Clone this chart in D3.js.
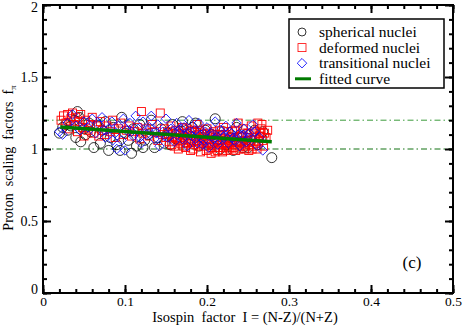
<!DOCTYPE html>
<html>
<head>
<meta charset="utf-8">
<script src="https://cdn.jsdelivr.net/npm/d3@7"></script>
<style>
  body { margin: 0; background: #fff; }
  svg text { font-family: "Liberation Serif", "Times New Roman", serif; }
</style>
</head>
<body>
<div id="chart"></div>
<script>
// values, [isospin I, f_pi]
var spherical = [
  [0.020,1.11],[0.024,1.15],[0.028,1.17],[0.030,1.13],[0.034,1.16],[0.038,1.20],[0.042,1.26],[0.044,1.22],
  [0.046,1.05],[0.040,1.08],[0.050,1.14],[0.052,1.10],[0.056,1.18],[0.058,1.12],[0.062,1.01],[0.066,1.16],
  [0.070,1.04],[0.072,1.13],[0.076,1.19],[0.080,0.99],[0.082,1.08],[0.086,1.15],[0.090,1.03],[0.094,0.99],
  [0.096,1.22],[0.100,1.11],[0.104,1.06],[0.108,0.97],[0.110,1.14],[0.114,1.02],[0.118,1.17],[0.122,1.01],
  [0.124,1.06],[0.128,1.10],[0.132,1.20],[0.136,1.01],[0.140,1.08],[0.144,1.14],[0.148,1.04],[0.152,1.11],
  [0.155,1.03],[0.158,1.17],[0.162,1.07],[0.166,1.12],[0.170,1.19],[0.174,1.05],[0.178,1.10],[0.182,1.15],
  [0.186,1.18],[0.190,1.02],[0.194,1.08],[0.198,1.13],[0.202,1.04],[0.206,1.10],[0.210,1.21],[0.212,1.06],
  [0.216,1.00],[0.220,1.12],[0.224,1.03],[0.228,1.08],[0.232,0.99],[0.236,1.15],[0.240,1.05],[0.244,1.01],
  [0.248,1.10],[0.250,1.01],[0.254,1.06],[0.258,1.13],[0.262,1.03],[0.266,1.08],[0.268,1.12],[0.279,0.94]
];
var deformed = [
  [0.022,1.20],[0.025,1.23],[0.028,1.18],[0.030,1.24],[0.032,1.14],[0.034,1.21],[0.036,1.25],[0.038,1.17],
  [0.040,1.22],[0.042,1.12],[0.044,1.19],[0.046,1.24],[0.048,1.15],[0.050,1.09],[0.052,1.20],[0.055,1.13],
  [0.058,1.17],[0.060,1.22],[0.062,1.11],[0.065,1.16],[0.068,1.09],[0.070,1.19],[0.072,1.13],
  [0.075,1.10],[0.078,1.16],[0.082,1.12],[0.085,1.20],[0.088,1.08],[0.092,1.14],[0.095,1.18],[0.098,1.10],
  [0.102,1.13],[0.105,1.16],[0.108,1.09],[0.112,1.12],[0.115,1.15],[0.118,1.07],[0.120,1.26],[0.122,1.11],
  [0.126,1.14],[0.130,1.09],[0.133,1.17],[0.136,1.12],[0.140,1.06],[0.143,1.25],[0.146,1.10],[0.148,1.14],
  [0.150,1.08],[0.152,1.12],[0.154,1.05],[0.156,1.16],[0.158,1.09],[0.160,1.02],[0.162,1.13],[0.164,1.07],
  [0.166,1.10],[0.168,1.04],[0.170,1.15],[0.172,1.08],[0.174,1.01],[0.176,1.11],[0.178,1.06],[0.180,0.99],
  [0.182,1.13],[0.184,1.03],[0.186,1.09],[0.188,1.17],[0.190,1.05],[0.192,0.98],[0.194,1.11],[0.196,1.02],
  [0.198,1.07],[0.200,1.14],[0.202,1.00],[0.204,1.09],[0.206,1.04],[0.208,1.12],[0.210,0.98],[0.212,1.06],
  [0.214,1.01],[0.216,1.10],[0.218,1.03],[0.220,1.15],[0.222,1.07],[0.224,0.99],[0.226,1.12],[0.228,1.04],
  [0.230,1.08],[0.232,1.01],[0.234,1.13],[0.236,1.05],[0.238,1.18],[0.240,1.02],[0.242,1.09],[0.244,1.14],
  [0.246,1.00],[0.248,1.06],[0.250,1.11],[0.252,1.03],[0.254,1.16],[0.256,1.08],[0.258,1.12],[0.260,1.04],
  [0.262,1.18],[0.264,1.09],[0.266,1.14],[0.268,1.06],[0.270,1.11],
  [0.165,1.00],[0.175,1.14],[0.185,1.12],[0.195,1.06],[0.205,0.97],[0.215,1.13],[0.225,1.02],[0.235,0.99],
  [0.245,1.04],[0.255,1.00],[0.190,1.10],[0.200,1.04],[0.210,1.08],[0.220,1.01],[0.180,1.07],[0.170,1.11],
  [0.153,1.10],[0.157,1.03],[0.161,1.08],[0.163,1.11],[0.167,1.06],[0.171,1.02],[0.173,1.09],[0.177,1.04],
  [0.179,1.12],[0.181,1.05],[0.183,1.00],[0.187,1.06],[0.189,1.02],[0.191,1.13],[0.193,1.04],[0.197,1.10],
  [0.199,0.99],[0.201,1.07],[0.203,1.11],[0.207,1.01],[0.209,1.05],[0.211,1.10],[0.213,0.99],[0.217,1.06],
  [0.219,0.98],[0.221,1.04],[0.223,1.10],[0.227,1.00],[0.229,1.06],[0.231,1.12],[0.233,1.03],[0.237,1.08],
  [0.239,1.00],[0.241,1.05],[0.243,1.11],[0.247,1.02],[0.249,1.08],[0.251,0.99],[0.253,1.06],[0.257,1.02],
  [0.259,1.09],[0.261,1.00],[0.263,1.05],[0.265,1.11],[0.269,1.02],[0.272,1.08],[0.274,1.13],[0.267,1.17]
];
var transitional = [
  [0.020,1.12],[0.024,1.10],[0.030,1.18],[0.036,1.24],[0.040,1.16],[0.045,1.13],[0.050,1.19],[0.055,1.15],
  [0.060,1.21],[0.064,1.11],[0.068,1.17],[0.072,1.22],[0.076,1.08],[0.080,1.14],[0.084,1.19],[0.088,1.11],
  [0.090,1.00],[0.092,1.16],[0.096,1.06],[0.098,1.21],[0.100,0.99],[0.102,1.13],[0.106,1.18],[0.110,1.09],
  [0.113,1.23],[0.116,1.14],[0.120,1.04],[0.122,1.19],[0.126,1.10],[0.130,1.15],[0.132,1.23],[0.136,1.07],
  [0.140,1.17],[0.142,1.02],[0.146,1.12],[0.150,1.21],[0.152,1.08],[0.156,1.14],[0.160,1.05],[0.163,1.18],
  [0.166,1.11],[0.170,1.07],[0.172,1.15],[0.176,1.02],[0.178,1.20],[0.182,1.09],[0.185,1.13],[0.188,1.04],
  [0.190,1.18],[0.193,1.10],[0.196,1.06],[0.200,1.15],[0.202,1.01],[0.205,1.11],[0.208,1.07],[0.210,1.19],
  [0.213,1.03],[0.216,1.13],[0.220,1.08],[0.223,1.16],[0.226,1.04],[0.230,1.11],[0.233,1.06],[0.236,1.18],
  [0.240,1.02],[0.242,1.09],[0.245,1.14],[0.248,1.05],[0.252,1.11],[0.256,1.17],[0.260,1.03],[0.264,1.08],
  [0.268,0.99],[0.108,1.12],[0.118,1.08],[0.128,1.13],[0.138,1.11],[0.148,1.09],[0.158,1.12],[0.168,1.14],
  [0.180,1.12],[0.198,1.12],[0.218,1.10],[0.228,1.12],[0.238,1.10],[0.250,1.08],[0.075,1.13],[0.085,1.06],
  [0.174,1.09],[0.186,1.07],[0.206,1.09],[0.214,1.06],[0.232,1.08],[0.244,1.10],[0.258,1.12],[0.195,1.03]
];
var fitX = [0.021, 0.279];
var fitY = [1.152, 1.051];
var refLines = [1.2, 1.0];
var xTicks = [0, 0.1, 0.2, 0.3, 0.4, 0.5];
var yTicks = [0, 0.5, 1, 1.5, 2];
var legendLabels = ["spherical nuclei", "deformed nuclei", "transitional nuclei", "fitted curve"];

var width = 463, height = 326;
var plotL = 43, plotR = 453, plotT = 5, plotB = 293;

var svg = d3.select("#chart").append("svg")
  .attr("width", width)
  .attr("height", height);

var x = d3.scaleLinear().domain([0, 0.5]).range([plotL, plotR]);
var y = d3.scaleLinear().domain([0, 2]).range([plotB, plotT]);

// reference lines
svg.selectAll(".ref")
  .data(refLines)
  .enter()
  .append("line")
  .attr("x1", x(0)).attr("x2", x(0.5))
  .attr("y1", d => y(d)).attr("y2", d => y(d))
  .attr("stroke", (d, i) => i === 0 ? "#3c9c3c" : "#137313")
  .attr("stroke-width", 1)
  .attr("stroke-dasharray", "6,3,1.5,3");

// points
svg.append("g").selectAll("circle")
  .data(spherical)
  .enter()
  .append("circle")
  .attr("cx", d => x(d[0]))
  .attr("cy", d => y(d[1]))
  .attr("r", 5)
  .attr("fill", "none")
  .attr("stroke", "#000")
  .attr("stroke-width", 0.8);

var sq = 8;
svg.append("g").selectAll("rect")
  .data(deformed)
  .enter()
  .append("rect")
  .attr("x", d => x(d[0]) - sq / 2)
  .attr("y", d => y(d[1]) - sq / 2)
  .attr("width", sq)
  .attr("height", sq)
  .attr("fill", "none")
  .attr("stroke", "#ff0000")
  .attr("stroke-width", 0.9);

var diamond = d3.symbol().type(d3.symbolSquare).size(45);
svg.append("g").selectAll("path")
  .data(transitional)
  .enter()
  .append("path")
  .attr("d", diamond)
  .attr("transform", d => "translate(" + x(d[0]) + "," + y(d[1]) + ") rotate(45)")
  .attr("fill", "none")
  .attr("stroke", "#0000ff")
  .attr("stroke-width", 0.8);

// fitted curve
var fitLine = d3.line().x((d, i) => x(fitX[i])).y(d => y(d));
svg.append("path")
  .datum(fitY)
  .attr("d", fitLine)
  .attr("fill", "none")
  .attr("stroke", "#007a00")
  .attr("stroke-width", 3.5);

// axes, ticks pointing inward on all four sides
function addAxis(axis, tx, ty, labels) {
  var g = svg.append("g")
    .attr("transform", "translate(" + tx + "," + ty + ")")
    .call(axis);
  g.select(".domain").remove();
  g.selectAll("line").attr("stroke", "#000").attr("stroke-width", 2);
  if (!labels) g.selectAll("text").remove();
  return g;
}
var xMinor = d3.range(0, 0.5001, 0.02);
var yMinor = d3.range(0, 2.0001, 0.1);

var xb = addAxis(d3.axisBottom(x).tickValues(xTicks).tickSize(-8).tickPadding(3)
  .tickFormat(d => d === 0 ? "0" : d3.format(".1f")(d)), 0, plotB, true);
addAxis(d3.axisBottom(x).tickValues(xMinor).tickSize(-4).tickFormat(""), 0, plotB, false);
addAxis(d3.axisTop(x).tickValues(xTicks).tickSize(-8), 0, plotT, false);
addAxis(d3.axisTop(x).tickValues(xMinor).tickSize(-4), 0, plotT, false);

var yl = addAxis(d3.axisLeft(y).tickValues(yTicks).tickSize(-8).tickPadding(5)
  .tickFormat(d => d3.format("")(d)), plotL, 0, true);
addAxis(d3.axisLeft(y).tickValues(yMinor).tickSize(-4).tickFormat(""), plotL, 0, false);
addAxis(d3.axisRight(y).tickValues(yTicks).tickSize(-8), plotR, 0, false);
addAxis(d3.axisRight(y).tickValues(yMinor).tickSize(-4), plotR, 0, false);

xb.selectAll("text").attr("font-size", 13.5).attr("fill", "#000")
  .attr("font-family", "Liberation Serif, serif");
yl.selectAll("text").attr("font-size", 14).attr("fill", "#000")
  .attr("font-family", "Liberation Serif, serif")
  .attr("dy", d => d === 0 ? "0.05em" : d === 2 ? "0.45em" : "0.32em");

svg.append("rect")
  .attr("x", plotL).attr("y", plotT)
  .attr("width", plotR - plotL).attr("height", plotB - plotT)
  .attr("fill", "none")
  .attr("stroke", "#000")
  .attr("stroke-width", 2);

// axis titles
svg.append("text")
  .attr("x", 245)
  .attr("y", 322)
  .attr("text-anchor", "middle")
  .attr("font-size", 14.5)
  .attr("xml:space", "preserve")
  .text("Isospin  factor  I = (N-Z)/(N+Z)");

var yt = svg.append("text")
  .attr("transform", "translate(13,158) rotate(-90)")
  .attr("text-anchor", "middle")
  .attr("font-size", 14)
  .attr("xml:space", "preserve");
yt.append("tspan").text("Proton  scaling  factors  f");
yt.append("tspan").attr("dy", 3).attr("font-size", 9).text("π");

svg.append("text")
  .attr("x", 412).attr("y", 268)
  .attr("text-anchor", "middle")
  .attr("font-size", 17)
  .text("(c)");

// legend
var lx = 289, ly = 19;
svg.append("rect")
  .attr("x", lx).attr("y", ly)
  .attr("width", 155).attr("height", 69)
  .attr("fill", "#fff")
  .attr("stroke", "#000")
  .attr("stroke-width", 1.5);

var rows = legendLabels.map((t, i) => ({ t: t, i: i, cy: ly + 13 + i * 15.6 }));
var lg = svg.append("g");
rows.forEach(function (r) {
  var mx = 302;
  if (r.i === 0) {
    lg.append("circle").attr("cx", mx).attr("cy", r.cy).attr("r", 4)
      .attr("fill", "none").attr("stroke", "#000").attr("stroke-width", 0.8);
  } else if (r.i === 1) {
    lg.append("rect").attr("x", mx - 4).attr("y", r.cy - 4).attr("width", 8).attr("height", 8)
      .attr("fill", "none").attr("stroke", "#ff0000").attr("stroke-width", 0.8);
  } else if (r.i === 2) {
    lg.append("path").attr("d", diamond)
      .attr("transform", "translate(" + mx + "," + r.cy + ") rotate(45)")
      .attr("fill", "none").attr("stroke", "#0000ff").attr("stroke-width", 0.8);
  } else {
    lg.append("line").attr("x1", 295).attr("x2", 311).attr("y1", r.cy).attr("y2", r.cy)
      .attr("stroke", "#007a00").attr("stroke-width", 3);
  }
  lg.append("text").attr("x", 319).attr("y", r.cy + 5)
    .attr("font-size", 15.5).text(r.t);
});
</script>
</body>
</html>
